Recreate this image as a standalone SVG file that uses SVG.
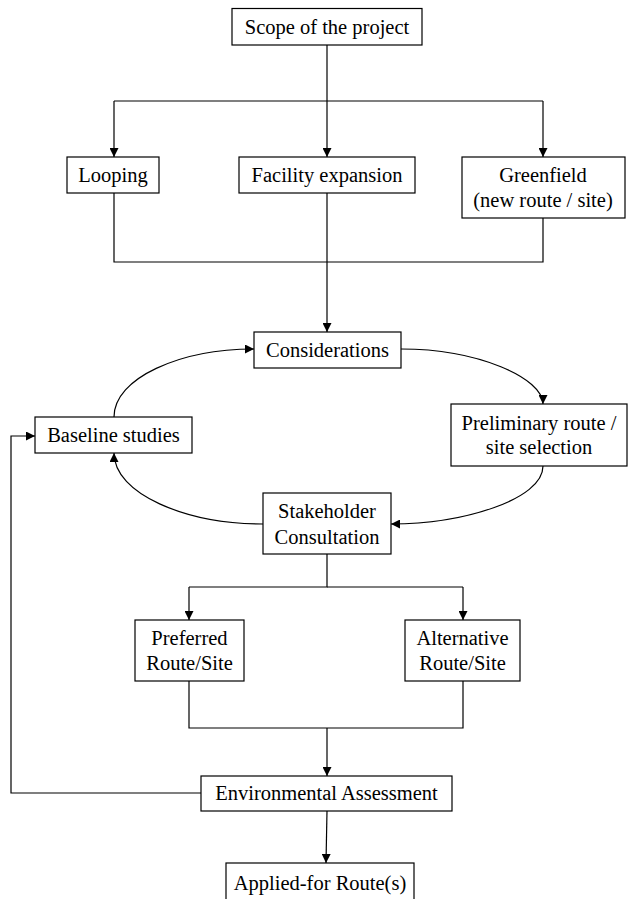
<svg xmlns="http://www.w3.org/2000/svg" width="628" height="899" viewBox="0 0 628 899">
<defs>
<marker id="ah" viewBox="0 0 10 10" refX="10" refY="5" markerWidth="9" markerHeight="9" markerUnits="userSpaceOnUse" orient="auto">
<path d="M0,0 L10,5 L0,10 Z" fill="#000"/>
</marker>
<style>
.box{fill:#fff;stroke:#000;stroke-width:1.2}
.t{font-family:'Liberation Serif','Times New Roman','DejaVu Serif',serif;font-size:20.5px;fill:#000;text-anchor:middle}
.c{fill:none;stroke:#000;stroke-width:1.2}
.a{fill:none;stroke:#000;stroke-width:1.2;marker-end:url(#ah)}
</style>
</defs>
<rect width="628" height="899" fill="#fff"/>
<g id="connectors">
<path class="a" d="M327,45 V157"/>
<path class="c" d="M114,101 H543"/>
<path class="a" d="M114,101 V157"/>
<path class="a" d="M543,101 V157"/>
<path class="c" d="M114,193 V262 H543 V218"/>
<path class="a" d="M327,193 V332"/>
<path class="a" d="M114,417 C114,378 180,349 254,349"/>
<path class="a" d="M401,349 C478,349 543,378 543,404"/>
<path class="a" d="M543,466 C543,500 462,524 391,524"/>
<path class="a" d="M263,524 C186,524 114,494 114,453"/>
<path class="c" d="M327,554 V587 H189"/>
<path class="a" d="M189,587 V620"/>
<path class="c" d="M327,587 H463"/>
<path class="a" d="M463,587 V620"/>
<path class="c" d="M189,681 V728 H463 V681"/>
<path class="a" d="M327,728 V776"/>
<path class="a" d="M201,793 H11 V436 H35"/>
<path class="a" d="M327,811 L326,863"/>
</g>
<g id="scope"><rect class="box" x="232" y="8.5" width="190" height="36.5"/><text class="t" x="327" y="34">Scope of the project</text></g>
<g id="looping"><rect class="box" x="67" y="157" width="92" height="36"/><text class="t" x="113" y="182">Looping</text></g>
<g id="facility"><rect class="box" x="239" y="157" width="176" height="36"/><text class="t" x="327" y="182">Facility expansion</text></g>
<g id="greenfield"><rect class="box" x="462" y="157" width="163" height="61"/><text class="t" x="543" y="182">Greenfield</text><text class="t" x="543" y="207">(new route / site)</text></g>
<g id="considerations"><rect class="box" x="254" y="332" width="147" height="36"/><text class="t" x="327.5" y="357">Considerations</text></g>
<g id="baseline"><rect class="box" x="35" y="417" width="157" height="36"/><text class="t" x="113.5" y="442">Baseline studies</text></g>
<g id="preliminary"><rect class="box" x="451" y="404" width="176" height="62"/><text class="t" x="539" y="430">Preliminary route /</text><text class="t" x="539" y="454">site selection</text></g>
<g id="stakeholder"><rect class="box" x="263" y="493" width="128" height="61"/><text class="t" x="327" y="518">Stakeholder</text><text class="t" x="327" y="544">Consultation</text></g>
<g id="preferred"><rect class="box" x="135" y="620" width="109" height="61"/><text class="t" x="189.5" y="645">Preferred</text><text class="t" x="189.5" y="670">Route/Site</text></g>
<g id="alternative"><rect class="box" x="405" y="620" width="115" height="61"/><text class="t" x="462.5" y="645">Alternative</text><text class="t" x="462.5" y="670">Route/Site</text></g>
<g id="environmental"><rect class="box" x="201" y="776" width="251" height="35"/><text class="t" x="326.5" y="800">Environmental Assessment</text></g>
<g id="applied"><rect class="box" x="226" y="863" width="188" height="40"/><text class="t" x="320" y="890">Applied-for Route(s)</text></g>
</svg>
